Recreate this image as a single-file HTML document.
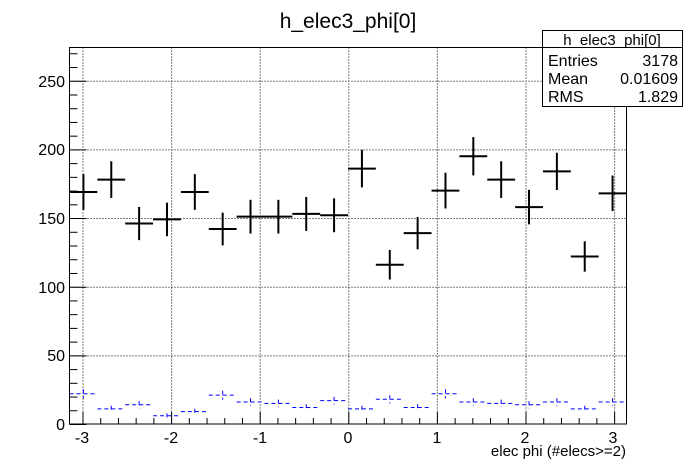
<!DOCTYPE html>
<html><head><meta charset="utf-8"><style>
html,body{margin:0;padding:0;background:#fff;}
svg{display:block;font-family:"Liberation Sans",Arial,sans-serif;}
</style></head><body>
<svg id="s" width="696" height="472" viewBox="0 0 696 472" xmlns="http://www.w3.org/2000/svg">
<rect x="0" y="0" width="696" height="472" fill="#fff"/>
<g id="g"></g>
<rect x="69.5" y="47.5" width="557" height="376.5" fill="none" stroke="#000" stroke-width="1"/>
<text x="348" y="28" font-size="21" text-anchor="middle">h_elec3_phi[0]</text>
<g font-size="16" text-anchor="end">
<text x="65" y="430">0</text>
<text x="65" y="361">50</text>
<text x="65" y="293">100</text>
<text x="65" y="224">150</text>
<text x="65" y="155">200</text>
<text x="65" y="87">250</text>
</g>
<g font-size="16" text-anchor="middle">
<text x="82" y="443">-3</text>
<text x="171" y="443">-2</text>
<text x="260" y="443">-1</text>
<text x="348" y="443">0</text>
<text x="437" y="443">1</text>
<text x="525" y="443">2</text>
<text x="613" y="443">3</text>
</g>
<text x="626" y="456" font-size="15" text-anchor="end">elec phi (#elecs&gt;=2)</text>
<rect x="542.5" y="30.5" width="140" height="76" fill="#fff" stroke="#000"/>
<line x1="542.5" y1="47.5" x2="682.5" y2="47.5" stroke="#000"/>
<text x="612" y="45" font-size="15" text-anchor="middle">h_elec3_phi[0]</text>
<g font-size="16">
<text x="548" y="66">Entries</text><text x="678" y="66" text-anchor="end">3178</text>
<text x="548" y="84">Mean</text><text x="678" y="84" text-anchor="end">0.01609</text>
<text x="548" y="102">RMS</text><text x="678" y="102" text-anchor="end">1.829</text>
</g>
</svg>
<script>
var g=document.getElementById('g'),ns='http://www.w3.org/2000/svg';
function L(x1,y1,x2,y2,c,w,d){var l=document.createElementNS(ns,'line');l.setAttribute('x1',x1);l.setAttribute('y1',y1);l.setAttribute('x2',x2);l.setAttribute('y2',y2);l.setAttribute('stroke',c);l.setAttribute('stroke-width',w);if(d)l.setAttribute('stroke-dasharray',d);g.appendChild(l);}
var X0=348.3,SX=88.6,Y0=424,SY=1.373;
function px(v){return X0+v*SX;} function py(v){return Y0-v*SY;}
for(var i=-3;i<=3;i++){L(px(i)+.5,47.5,px(i)+.5,424,'#000',1,'1,2');}
for(var v=50;v<=250;v+=50){L(69.5,py(v)+.5,626,py(v)+.5,'#000',1,'1,2');}
for(var v=0;v<=270;v+=10){var len=(v%50==0)?17:8;L(69.5,py(v)+.5,69.5+len,py(v)+.5,'#000',1);}
for(var k=-15;k<=15;k++){var v=k*0.2;var x=px(v);if(x<70||x>626)continue;var len=(k%5==0)?12:6;L(x+.5,424,x+.5,424-len,'#000',1);}
var bw=557/20;
var blk=[169,178,146,149,169,142,151,151,153,152,186,116,139,170,195,178,158,184,122,168];
var blue=[22,11,14,6,9,21,16,15,12,17,11,18,12,22,16,15,14,16,11,16];
for(var i=0;i<20;i++){
 var xl=69.5+i*bw,xr=xl+bw,xc=xl+bw/2;
 var y=py(blk[i]),e=Math.sqrt(blk[i])*SY;
 L(xl,y,xr,y,'#000',2);L(xc,y-e,xc,y+e,'#000',2);
 var yb=py(blue[i]),eb=Math.sqrt(blue[i])*SY*0.7;
 L(xl,yb,xr,yb,'#00f',1,'4,3');L(xc,yb-eb,xc,yb+eb,'#00f',1,'4,3');
}
</script>
</body></html>
